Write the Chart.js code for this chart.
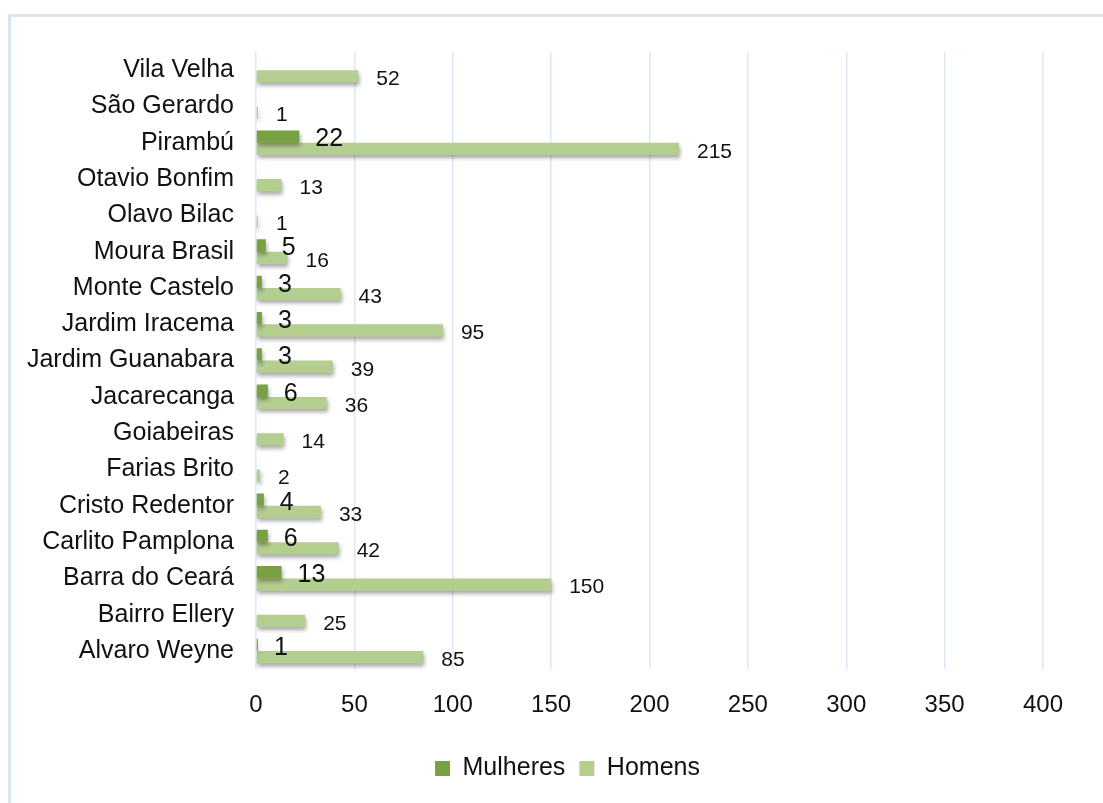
<!DOCTYPE html>
<html>
<head>
<meta charset="utf-8">
<script src="https://cdn.jsdelivr.net/npm/chart.js@4.4.1/dist/chart.umd.min.js"></script>
<style>
  html, body { margin: 0; padding: 0; background: #fff; }
  #wrap { position: relative; width: 1103px; height: 803px; overflow: hidden; }
  #frame { position: absolute; left: 8px; top: 14px; width: 1200px; height: 900px;
           border-top: 3px solid #dae5f3; border-left: 3px solid #dae5f3; }
  #c { position: absolute; left: 0; top: 0; }
</style>
</head>
<body>
<div id="wrap">
  <div id="frame"></div>
  <canvas id="c" width="1103" height="803"></canvas>
</div>
<script>
// bairros, top to bottom as in the figure
var bairros = ["Vila Velha", "São Gerardo", "Pirambú", "Otavio Bonfim", "Olavo Bilac",
  "Moura Brasil", "Monte Castelo", "Jardim Iracema", "Jardim Guanabara", "Jacarecanga",
  "Goiabeiras", "Farias Brito", "Cristo Redentor", "Carlito Pamplona", "Barra do Ceará",
  "Bairro Ellery", "Alvaro Weyne"];
var mulheres = [0, 0, 22, 0, 0, 5, 3, 3, 3, 6, 0, 0, 4, 6, 13, 0, 1];
var homens = [52, 1, 215, 13, 1, 16, 43, 95, 39, 36, 14, 2, 33, 42, 150, 25, 85];
var xTicks = [0, 50, 100, 150, 200, 250, 300, 350, 400];

var fontFam = "'Liberation Sans', Arial, sans-serif";
var txt = "#111111";

// excel-ish soft shadow under the bars
var barShadow = {
  id: 'barShadow',
  beforeDatasetsDraw: function(chart) {
    var ctx = chart.ctx;
    ctx.save();
    ctx.shadowColor = 'rgba(0,0,0,0.35)';
    ctx.shadowBlur = 4;
    ctx.shadowOffsetX = 1;
    ctx.shadowOffsetY = 3;
  },
  afterDatasetsDraw: function(chart) {
    chart.ctx.restore();
  }
};

// the legend sits a bit right of centre in the original
var legendShift = {
  id: 'legendShift',
  afterLayout: function(chart) {
    chart.legend.left += 46;
    chart.legend.right += 46;
  }
};

// value labels at the end of each bar
var valueLabels = {
  id: 'valueLabels',
  afterDraw: function(chart) {
    var ctx = chart.ctx;
    ctx.save();
    ctx.fillStyle = txt;
    ctx.textAlign = 'left';
    ctx.textBaseline = 'middle';
    chart.data.datasets.forEach(function(ds, i) {
      var meta = chart.getDatasetMeta(i);
      meta.data.forEach(function(bar, j) {
        var v = ds.data[j];
        if (!v) return;
        if (i == 0) {
          ctx.font = "25px " + fontFam;
          ctx.fillText(v, bar.x + 16, bar.y + 3);
        } else {
          ctx.font = "21px " + fontFam;
          ctx.fillText(v, bar.x + 18, bar.y + 3);
        }
      });
    });
    ctx.restore();
  }
};

var chart = new Chart(document.getElementById("c"), {
  type: 'bar',
  data: {
    labels: bairros,
    datasets: [
      { label: "Mulheres", data: mulheres, backgroundColor: "#78a143" },
      { label: "Homens", data: homens, backgroundColor: "#b4ce8f" }
    ]
  },
  options: {
    indexAxis: 'y',
    responsive: false,
    animation: false,
    layout: { padding: { top: 52, right: 60, bottom: 12, left: 0 } },
    datasets: { bar: { categoryPercentage: 0.68, barPercentage: 1.0 } },
    scales: {
      x: {
        min: 0, max: 400,
        afterBuildTicks: function(s) { s.ticks = xTicks.map(function(v) { return { value: v }; }); },
        grid: { color: "#dce7f5", lineWidth: 1.5, drawTicks: false },
        border: { display: false },
        ticks: { color: txt, font: { family: fontFam, size: 24 }, padding: 22 }
      },
      y: {
        afterFit: function(s) { s.width = 256; },
        grid: { display: false },
        border: { display: false },
        ticks: { color: txt, font: { family: fontFam, size: 25 }, padding: 14, autoSkip: false }
      }
    },
    plugins: {
      legend: {
        position: 'bottom',
        labels: { color: txt, font: { family: fontFam, size: 25 }, boxWidth: 15, boxHeight: 15, padding: 14 }
      },
      tooltip: { enabled: false }
    }
  },
  plugins: [barShadow, legendShift, valueLabels]
});
</script>
</body>
</html>
